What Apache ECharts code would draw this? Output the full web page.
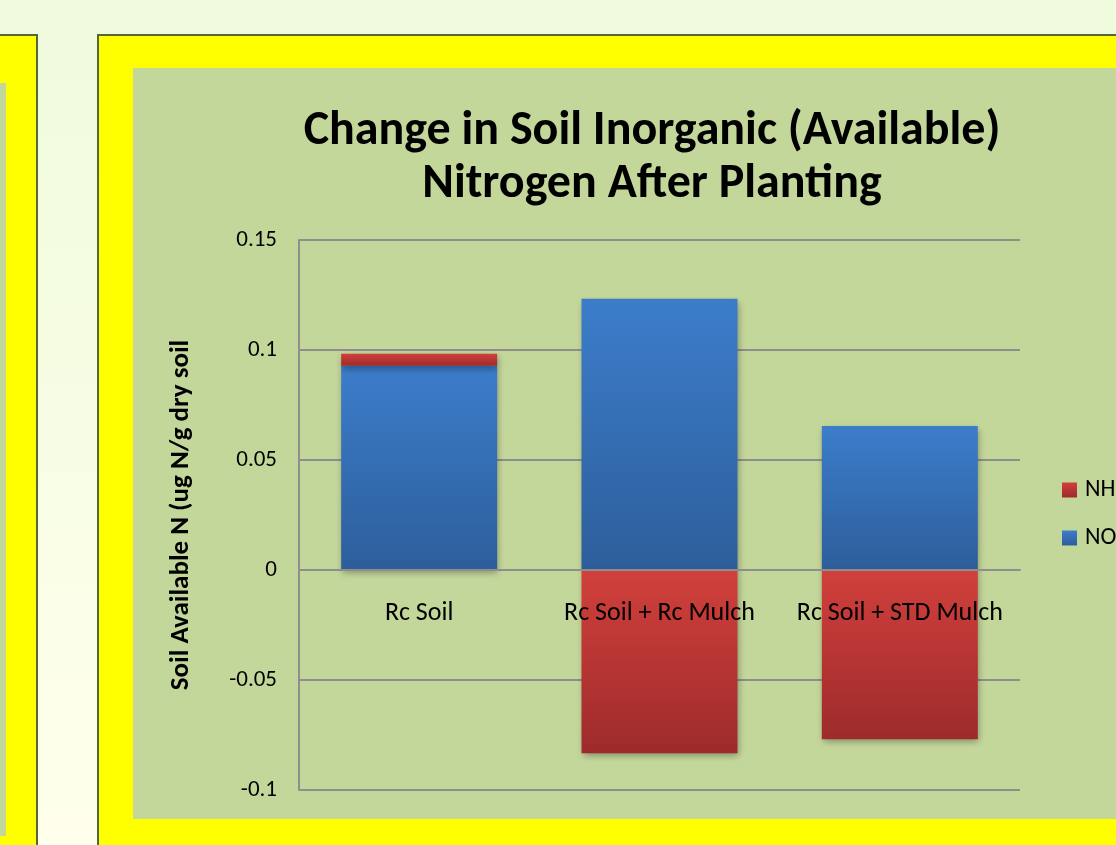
<!DOCTYPE html>
<html>
<head>
<meta charset="utf-8">
<script src="https://cdn.jsdelivr.net/npm/echarts@6/dist/echarts.min.js"></script>
<style>
  html, body { margin: 0; padding: 0; }
  #main { width: 1116px; height: 845px; }
</style>
</head>
<body>
<div id="main"></div>
<script>
  // chart data
  var categories = ['Rc Soil', 'Rc Soil + Rc Mulch', 'Rc Soil + STD Mulch'];
  var no3Values = [0.0928, 0.1233, 0.0655];
  var nh4Values = [0.0055, -0.0833, -0.0769];
  var seriesNames = ['NH4', 'NO3'];
  var titleText = 'Change in Soil Inorganic (Available)\nNitrogen After Planting';
  var yAxisName = 'Soil Available N (ug N/g dry soil';

  var font = 'Carlito, Lato, sans-serif';

  function grad(top, bottom) {
    return {
      type: 'linear', x: 0, y: 0, x2: 0, y2: 1,
      colorStops: [{ offset: 0, color: top }, { offset: 1, color: bottom }]
    };
  }

  var barShadow = {
    shadowColor: 'rgba(0,0,0,0.35)',
    shadowBlur: 7,
    shadowOffsetX: 1,
    shadowOffsetY: 3
  };

  var myChart = echarts.init(document.getElementById('main'));

  myChart.setOption({
    backgroundColor: grad('#EFFBDC', '#FFFFEC'),
    animation: false,
    graphic: [
      // left panel (cut off)
      { type: 'rect', z: -10, shape: { x: -10, y: 35, width: 47, height: 830 },
        style: { fill: '#FFFF00', stroke: '#55663A', lineWidth: 2 } },
      { type: 'rect', z: -9, shape: { x: -10, y: 83, width: 16, height: 753 },
        style: { fill: '#C4D79B' } },
      // right panel
      { type: 'rect', z: -10, shape: { x: 98, y: 35, width: 1040, height: 830 },
        style: { fill: '#FFFF00', stroke: '#55663A', lineWidth: 2 } },
      { type: 'rect', z: -9, shape: { x: 133, y: 68, width: 1000, height: 751 },
        style: { fill: '#C4D79B' } }
    ],
    title: {
      text: titleText,
      left: 647,
      top: 100,
      textAlign: 'center',
      textStyle: {
        fontFamily: font,
        fontSize: 48,
        fontWeight: 'bold',
        color: '#000',
        lineHeight: 53
      }
    },
    legend: {
      data: seriesNames,
      orient: 'vertical',
      left: 1062,
      top: 478,
      padding: 0,
      itemWidth: 15,
      itemHeight: 15,
      itemGap: 24,
      icon: 'rect',
      textStyle: { fontFamily: font, fontSize: 24, lineHeight: 24, color: '#000', padding: [0, 0, 0, 3] }
    },
    grid: {
      left: 299,
      right: 96,
      top: 240,
      bottom: 55,
      containLabel: false
    },
    xAxis: {
      type: 'category',
      data: categories,
      offset: -220,
      z: 10,
      axisLine: { onZero: false, lineStyle: { color: '#8E8E8E', width: 2 } },
      axisTick: { show: false },
      axisLabel: { fontFamily: font, fontSize: 26, color: '#000', margin: 30, interval: 0 }
    },
    yAxis: {
      type: 'value',
      min: -0.1,
      max: 0.15,
      interval: 0.05,
      name: yAxisName,
      nameLocation: 'middle',
      nameRotate: 90,
      nameGap: 104,
      nameTextStyle: { fontFamily: font, fontSize: 27, fontWeight: 'bold', color: '#000' },
      axisLine: { show: true, lineStyle: { color: '#8E8E8E', width: 2 } },
      axisTick: { show: false },
      axisLabel: { fontFamily: font, fontSize: 23, color: '#000', margin: 22 },
      splitLine: { lineStyle: { color: '#8E8E8E', width: 2 } }
    },
    series: [
      {
        name: 'NO3',
        type: 'bar',
        stack: 'total',
        barWidth: 156,
        data: no3Values,
        itemStyle: Object.assign({ color: grad('#3C7DCA', '#2D5E9B') }, barShadow)
      },
      {
        name: 'NH4',
        type: 'bar',
        stack: 'total',
        barWidth: 156,
        data: nh4Values,
        itemStyle: Object.assign({ color: grad('#D1403C', '#9D2B2B') }, barShadow)
      }
    ]
  });
</script>
</body>
</html>
